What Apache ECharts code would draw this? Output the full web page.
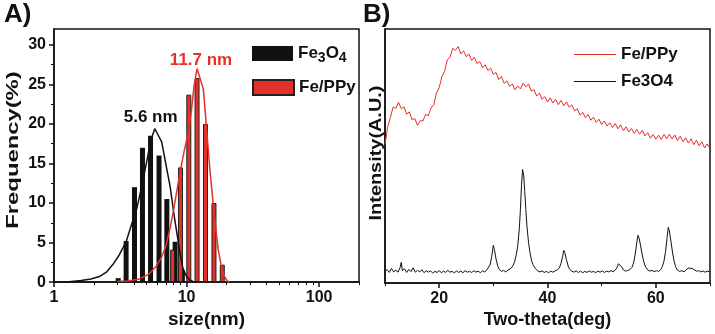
<!DOCTYPE html>
<html>
<head>
<meta charset="utf-8">
<script src="https://cdn.jsdelivr.net/npm/echarts@6/dist/echarts.min.js"></script>
<style>
  html, body { margin: 0; padding: 0; background: #fff; }
  #main { width: 715px; height: 334px; }
</style>
</head>
<body>
<div id="main"></div>
<script>
var FONT = '"Liberation Sans", Arial, sans-serif';
var RED = '#e5302a';
var BLACK = '#111';

// panel A: size distribution (size nm, frequency %)
var fe3o4Bars = [[3.05, 0.5], [3.5, 5.2], [4.05, 12], [4.65, 17], [5.35, 18.5], [6.2, 16], [7.1, 10.5], [8.2, 5.1], [9.3, 1.5]];
var feppyBars = [[7.85, 4.1], [9.0, 14.5], [10.4, 23.7], [12.0, 25.8], [13.9, 20], [16.1, 10], [18.6, 2.2]];
var fe3o4Fit = [[1, 0.02], [1.3, 0.05], [1.6, 0.2], [1.9, 0.4], [2.2, 0.7], [2.5, 1.3], [2.8, 2.3], [3.1, 3.4], [3.5, 5.1],
  [3.9, 7.6], [4.2, 9.2], [4.6, 12.2], [5.0, 15.2], [5.4, 18], [5.75, 19.4], [6.1, 18.6], [6.5, 17.7], [7.0, 14.8],
  [7.5, 12.2], [8.0, 8.8], [8.4, 6.5], [8.9, 3.8], [9.4, 1.7], [10, 0.7], [10.6, 0.25], [11.2, 0.08], [12, 0]];
var feppyFit = [[3, 0.1], [3.6, 0.15], [4.4, 0.4], [5.2, 1.0], [5.9, 2.0], [6.5, 3.2], [7.0, 4.6], [7.5, 6.8], [8.0, 9.2],
  [8.5, 11.8], [9.0, 14.2], [9.6, 16.6], [10.3, 18.8], [10.9, 21.8], [11.4, 24.8], [12.0, 27], [13.4, 24.4], [15.0, 14.2],
  [16.2, 8.4], [17.3, 4.2], [18.3, 2.0], [19.2, 0.8], [20.2, 0.2], [21, 0]];
var sizeLabelTicks = [1, 10, 100];
var sizeMinorTicks = [2, 3, 4, 5, 6, 7, 8, 9, 20, 30, 40, 50, 60, 70, 80, 90, 200];
var freqTicks = [0, 5, 10, 15, 20, 25, 30];
var freqMinorTicks = [2.5, 7.5, 12.5, 17.5, 22.5, 27.5];

// panel B: XRD (two-theta deg, intensity a.u.)
var xrdFePPy = [[10, 54.5], [10.5, 61.5], [11, 65.2], [11.5, 69.3], [12, 68.8], [12.5, 71.2], [13, 68.6], [13.5, 69.4],
  [14, 66.5], [14.5, 67.4], [15, 64.2], [15.5, 64.8], [16, 62.1], [16.5, 63.9], [17, 63.8], [17.5, 66.4], [18, 65.9],
  [18.5, 68.9], [19, 70.2], [19.5, 74.8], [20, 76.9], [20.5, 81.3], [21, 83.4], [21.5, 87.8], [22, 88.9], [22.5, 92.4],
  [23, 91.6], [23.5, 93.1], [24, 90.2], [24.5, 91.4], [25, 89.1], [25.5, 90.2], [26, 87.6], [26.5, 88.9], [27, 86.4],
  [27.5, 87.2], [28, 84.8], [28.5, 85.9], [29, 83.6], [29.5, 84.6], [30, 82.2], [30.5, 82.9], [31, 80.1], [31.5, 81.3],
  [32, 78.6], [32.5, 79.6], [33, 77.4], [33.5, 78.4], [34, 76.1], [34.5, 77.6], [35, 76.4], [35.5, 78.7], [36, 77.2],
  [36.5, 78.4], [37, 75.6], [37.5, 76.1], [38, 73.6], [38.5, 74.8], [39, 72.3], [39.5, 73.4], [40, 71.3], [40.5, 72.9],
  [41, 70.9], [41.5, 72.3], [42, 70.2], [42.5, 71.9], [43, 69.8], [43.5, 71.3], [44, 69.2], [44.5, 70.1], [45, 67.8],
  [45.5, 68.6], [46, 66.1], [46.5, 67.2], [47, 65.1], [47.5, 66.4], [48, 64.1], [48.5, 65.3], [49, 63.2], [49.5, 64.5],
  [50, 62.4], [50.5, 63.8], [51, 61.8], [51.5, 63.1], [52, 61.2], [52.5, 62.8], [53, 60.7], [53.5, 62.3], [54, 60.0],
  [54.5, 61.5], [55, 59.5], [55.5, 60.8], [56, 58.9], [56.5, 60.5], [57, 58.6], [57.5, 60.1], [58, 57.9], [58.5, 59.2],
  [59, 57.0], [59.5, 58.5], [60, 56.6], [60.5, 58.2], [61, 56.5], [61.5, 58.5], [62, 56.8], [62.5, 58.6], [63, 56.7],
  [63.5, 58.3], [64, 56.1], [64.5, 57.8], [65, 55.7], [65.5, 57.2], [66, 55.1], [66.5, 56.8], [67, 54.5], [67.5, 56.2],
  [68, 54.0], [68.5, 55.6], [69, 53.2], [69.5, 54.8], [70, 52.8]];
var xrdFe3O4 = [[10, 4.6], [10.4, 5.3], [10.8, 4.2], [11.2, 5.8], [11.6, 4.4], [12, 5.1], [12.4, 4.3], [12.8, 6.2], [13, 8.2],
  [13.2, 4.9], [13.6, 5.6], [14, 4.2], [14.4, 5.4], [14.8, 4.5], [15.2, 6.0], [15.6, 4.3], [16, 5.0], [16.4, 4.4], [16.8, 5.3],
  [17.2, 4.1], [17.6, 4.9], [18, 4.3], [18.4, 4.8], [18.8, 4.0], [19.2, 4.6], [19.6, 4.2], [20, 4.9], [20.4, 4.1], [20.8, 4.7],
  [21.2, 4.2], [21.6, 5.0], [22, 4.3], [22.4, 4.6], [22.8, 4.0], [23.2, 4.8], [23.6, 4.2], [24, 4.7], [24.4, 4.1], [24.8, 4.9],
  [25.2, 4.3], [25.6, 4.6], [26, 4.2], [26.4, 4.9], [26.8, 4.3], [27.2, 4.7], [27.6, 4.1], [28, 4.8], [28.4, 4.4], [28.8, 5.2],
  [29.1, 5.8], [29.4, 7.2], [29.7, 10.5], [30.0, 14.9], [30.2, 13.2], [30.5, 9.5], [30.8, 6.8], [31.1, 5.4], [31.5, 4.6],
  [31.9, 5.0], [32.3, 4.4], [32.7, 5.1], [33.0, 5.3], [33.3, 5.9], [33.6, 6.8], [33.9, 8.2], [34.2, 10.8], [34.5, 14.5],
  [34.8, 21.5], [35.0, 29], [35.2, 38.5], [35.4, 44.7], [35.6, 42.5], [35.8, 36], [36.0, 29], [36.2, 22.5], [36.5, 16],
  [36.8, 11.5], [37.1, 8.6], [37.4, 6.9], [37.8, 5.6], [38.2, 4.8], [38.6, 4.4], [39, 4.8], [39.4, 4.2], [39.8, 4.6],
  [40.2, 4.1], [40.6, 4.7], [41, 4.3], [41.4, 4.8], [41.8, 5.2], [42.2, 6.0], [42.5, 7.8], [42.8, 10.5], [43.0, 12.9],
  [43.2, 12.0], [43.5, 9.2], [43.8, 6.8], [44.1, 5.4], [44.5, 4.7], [44.9, 4.3], [45.3, 4.8], [45.7, 4.2], [46.1, 4.7],
  [46.5, 4.1], [46.9, 4.6], [47.3, 4.2], [47.7, 4.8], [48.1, 4.3], [48.5, 4.6], [48.9, 4.1], [49.3, 4.7], [49.7, 4.3],
  [50.1, 4.8], [50.5, 4.2], [50.9, 4.7], [51.3, 4.4], [51.7, 4.9], [52.1, 4.5], [52.5, 5.1], [52.8, 6.0], [53.1, 7.6],
  [53.4, 8.1], [53.7, 6.4], [54.0, 5.2], [54.4, 4.7], [54.8, 5.0], [55.2, 5.3], [55.6, 6.2], [55.9, 8.0], [56.2, 11.5],
  [56.5, 16.2], [56.7, 18.8], [56.9, 17.8], [57.2, 14.6], [57.5, 11.0], [57.8, 8.2], [58.1, 6.4], [58.5, 5.2], [58.9, 4.7],
  [59.3, 5.0], [59.7, 4.5], [60.1, 4.9], [60.5, 4.6], [60.9, 5.3], [61.2, 6.5], [61.5, 8.6], [61.8, 12.5], [62.1, 18.2],
  [62.3, 22.0], [62.5, 20.5], [62.8, 16.2], [63.1, 11.8], [63.4, 8.3], [63.7, 6.2], [64.0, 5.1], [64.4, 4.6], [64.8, 4.9],
  [65.2, 4.4], [65.6, 5.2], [66.0, 5.9], [66.3, 6.4], [66.7, 5.8], [67.1, 5.2], [67.5, 4.7], [67.9, 4.9], [68.3, 4.4],
  [68.7, 4.8], [69.1, 4.3], [69.5, 4.7], [70, 4.4]];
var thetaTicks = [20, 40, 60];
var thetaMinorTicks = [10, 30, 50, 70];

var legendNames = { 'xrd-feppy': 'Fe/PPy', 'xrd-fe3o4': 'Fe3O4' };

var labelFont = { fontFamily: FONT, fontWeight: 'bold', fontSize: 16, color: BLACK };
var axisLine = { show: true, lineStyle: { color: BLACK, width: 1.5 } };

var myChart = echarts.init(document.getElementById('main'));
var option = {
  backgroundColor: '#fff',
  animation: false,
  textStyle: { fontFamily: FONT },
  grid: [
    { left: 54, top: 29, width: 305, height: 258, show: true, borderColor: BLACK, borderWidth: 1.5 },
    { left: 385, top: 29, width: 325, height: 258, show: true, borderColor: BLACK, borderWidth: 1.5 }
  ],
  legend: [
    {
      data: ['Fe3O4'], orient: 'vertical', left: 247, top: 40,
      itemWidth: 41, itemHeight: 15, icon: 'rect', selectedMode: false,
      formatter: function () { return 'Fe{sub|3}O{sub|4}'; },
      textStyle: {
        fontFamily: FONT, fontWeight: 'bold', fontSize: 17, color: BLACK,
        rich: { sub: { fontFamily: FONT, fontWeight: 'bold', fontSize: 14, color: BLACK, padding: [10, 0, 0, 0] } }
      }
    },
    {
      data: ['Fe/PPy'], orient: 'vertical', left: 247, top: 74,
      itemWidth: 41, itemHeight: 15, icon: 'rect', selectedMode: false,
      textStyle: { fontFamily: FONT, fontWeight: 'bold', fontSize: 17, color: BLACK }
    },
    {
      data: ['xrd-feppy', 'xrd-fe3o4'], orient: 'vertical', left: 569, top: 41,
      itemWidth: 42, itemHeight: 1.2, itemGap: 10, icon: 'rect', selectedMode: false,
      formatter: function (name) { return legendNames[name]; },
      textStyle: { fontFamily: FONT, fontWeight: 'bold', fontSize: 17, color: BLACK }
    }
  ],
  xAxis: [
    {
      type: 'log', gridIndex: 0, logBase: 10, min: 1, max: 200, position: 'bottom',
      name: 'size(nm)', nameLocation: 'middle', nameGap: 24,
      nameTextStyle: { fontFamily: FONT, fontWeight: 'bold', fontSize: 19, color: BLACK },
      axisLine: axisLine,
      axisTick: { show: true, length: 5, customValues: sizeLabelTicks, lineStyle: { color: BLACK, width: 1.5 } },
      axisLabel: Object.assign({ margin: 7, customValues: sizeLabelTicks }, labelFont),
      splitLine: { show: false }, minorTick: { show: false }
    },
    {
      type: 'log', gridIndex: 0, logBase: 10, min: 1, max: 200, position: 'bottom',
      axisLine: { show: false },
      axisTick: { show: true, length: 3, customValues: sizeMinorTicks, lineStyle: { color: BLACK, width: 1 } },
      axisLabel: { show: false }, splitLine: { show: false }
    },
    {
      type: 'value', gridIndex: 1, min: 10, max: 70, position: 'bottom',
      name: 'Two-theta(deg)', nameLocation: 'middle', nameGap: 24,
      nameTextStyle: { fontFamily: FONT, fontWeight: 'bold', fontSize: 18, color: BLACK },
      axisLine: axisLine,
      axisTick: { show: true, length: 5, customValues: thetaTicks, lineStyle: { color: BLACK, width: 1.5 } },
      axisLabel: Object.assign({ margin: 7, customValues: thetaTicks }, labelFont),
      splitLine: { show: false }
    },
    {
      type: 'value', gridIndex: 1, min: 10, max: 70, position: 'bottom',
      axisLine: { show: false },
      axisTick: { show: true, length: 3, customValues: thetaMinorTicks, lineStyle: { color: BLACK, width: 1 } },
      axisLabel: { show: false }, splitLine: { show: false }
    }
  ],
  yAxis: [
    {
      type: 'value', gridIndex: 0, min: 0, max: 32, position: 'left',
      axisLine: axisLine,
      axisTick: { show: true, length: 5, customValues: freqTicks, lineStyle: { color: BLACK, width: 1.5 } },
      axisLabel: Object.assign({ margin: 8, customValues: freqTicks }, labelFont),
      splitLine: { show: false }
    },
    {
      type: 'value', gridIndex: 0, min: 0, max: 32, position: 'left',
      axisLine: { show: false },
      axisTick: { show: true, length: 3, customValues: freqMinorTicks, lineStyle: { color: BLACK, width: 1 } },
      axisLabel: { show: false }, splitLine: { show: false }
    },
    {
      type: 'value', gridIndex: 1, min: 0, max: 100, position: 'left',
      axisLine: axisLine, axisTick: { show: false }, axisLabel: { show: false }, splitLine: { show: false }
    }
  ],
  series: [
    {
      name: 'Fe3O4', type: 'bar', xAxisIndex: 0, yAxisIndex: 0, barWidth: 5, barGap: '-100%',
      itemStyle: { color: BLACK }, data: fe3o4Bars
    },
    {
      name: 'Fe/PPy', type: 'bar', xAxisIndex: 0, yAxisIndex: 0, barWidth: 5, barGap: '-100%',
      itemStyle: { color: RED, borderColor: '#222', borderWidth: 1 }, data: feppyBars
    },
    {
      name: 'fit-fe3o4', type: 'line', xAxisIndex: 0, yAxisIndex: 0, symbol: 'none', smooth: false,
      lineStyle: { color: BLACK, width: 1.5 }, itemStyle: { color: BLACK }, data: fe3o4Fit, z: 5,
      markPoint: {
        symbol: 'circle', symbolSize: 0, silent: true,
        data: [{ coord: [5.75, 19.4], label: { show: true, position: 'top', distance: 3, offset: [-4, 0],
          formatter: '5.6 nm', fontFamily: FONT, fontWeight: 'bold', fontSize: 17, color: BLACK } }]
      }
    },
    {
      name: 'fit-feppy', type: 'line', xAxisIndex: 0, yAxisIndex: 0, symbol: 'none', smooth: false,
      lineStyle: { color: RED, width: 1.5 }, itemStyle: { color: RED }, data: feppyFit, z: 5,
      markPoint: {
        symbol: 'circle', symbolSize: 0, silent: true,
        data: [{ coord: [12.0, 27], label: { show: true, position: 'top', distance: 0, offset: [4, 0],
          formatter: '11.7 nm', fontFamily: FONT, fontWeight: 'bold', fontSize: 17, color: RED } }]
      }
    },
    {
      name: 'xrd-feppy', type: 'line', xAxisIndex: 2, yAxisIndex: 2, symbol: 'none',
      lineStyle: { color: RED, width: 1 }, itemStyle: { color: RED }, data: xrdFePPy
    },
    {
      name: 'xrd-fe3o4', type: 'line', xAxisIndex: 2, yAxisIndex: 2, symbol: 'none',
      lineStyle: { color: BLACK, width: 1 }, itemStyle: { color: BLACK }, data: xrdFe3O4
    }
  ],
  graphic: [
    { type: 'text', left: 4, top: 2, style: { text: 'A)', font: 'bold 26px ' + FONT, fill: BLACK } },
    { type: 'text', left: 363, top: 2, style: { text: 'B)', font: 'bold 26px ' + FONT, fill: BLACK } },
    {
      type: 'text', x: 13, y: 150, rotation: Math.PI / 2, scaleX: 1.4,
      style: { text: 'Frequency(%)', font: 'bold 17px ' + FONT, fill: BLACK,
        textAlign: 'center', textVerticalAlign: 'middle', align: 'center', verticalAlign: 'middle' }
    },
    {
      type: 'text', x: 376, y: 153, rotation: Math.PI / 2, scaleX: 1.17,
      style: { text: 'Intensity(A.U.)', font: 'bold 17px ' + FONT, fill: BLACK,
        textAlign: 'center', textVerticalAlign: 'middle', align: 'center', verticalAlign: 'middle' }
    }
  ]
};
myChart.setOption(option);
</script>
</body>
</html>
